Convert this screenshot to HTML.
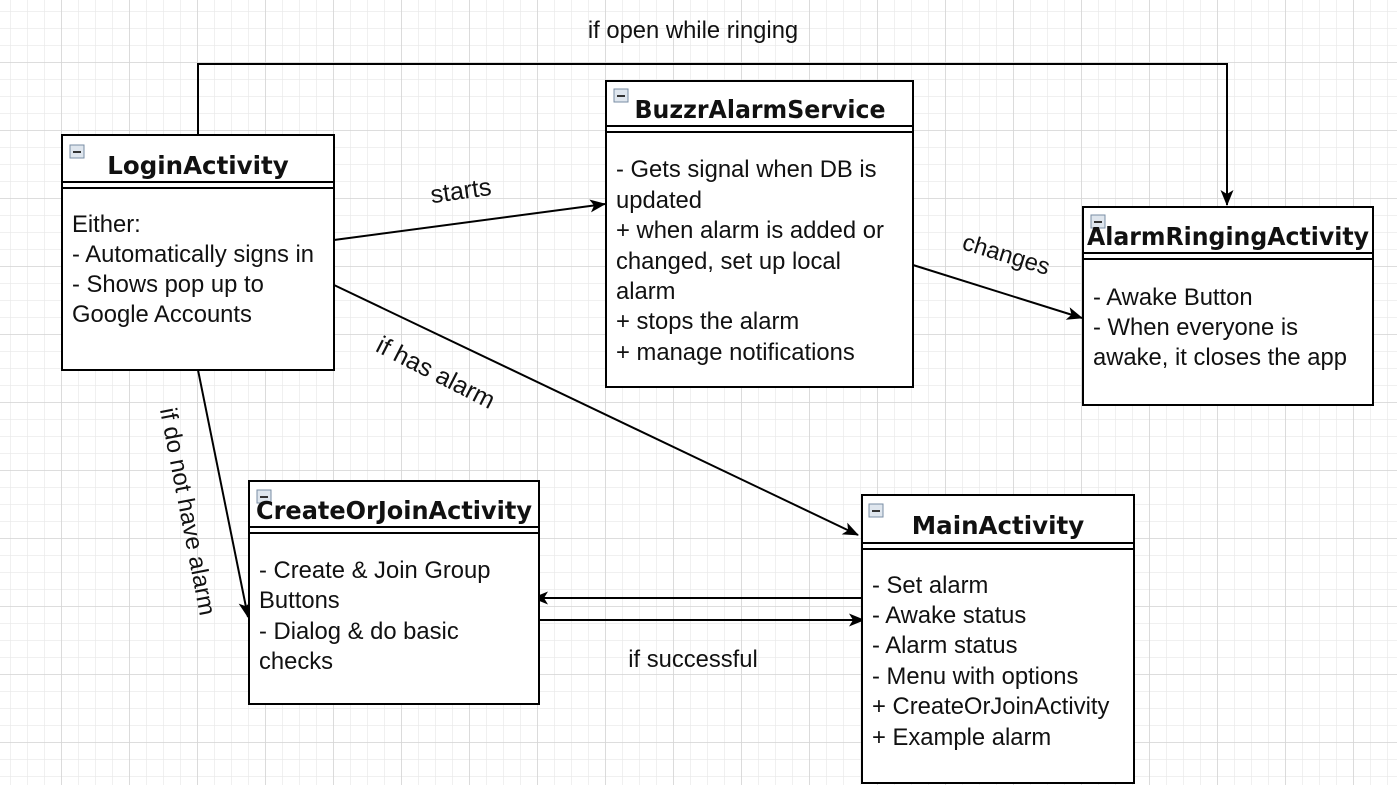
<!DOCTYPE html>
<html><head><meta charset="utf-8"><style>
html,body{margin:0;padding:0;background:#fff;}
svg{display:block;}
text{font-family:"Liberation Sans",sans-serif;fill:#111;}
.t{font-family:"DejaVu Sans","Liberation Sans",sans-serif;font-weight:bold;font-size:24.5px;}
.b{font-size:23.8px;}
</style></head><body>
<svg width="1397" height="785" viewBox="0 0 1397 785" xmlns="http://www.w3.org/2000/svg">
<defs>
<pattern id="mg" x="10" y="11" width="17" height="17" patternUnits="userSpaceOnUse">
<path d="M0 0H17M0 0V17" stroke="#e8e8e8" stroke-width="1.3" fill="none"/></pattern>
<pattern id="Mg" x="61" y="62" width="68" height="68" patternUnits="userSpaceOnUse">
<path d="M0 0H68M0 0V68" stroke="#d4d4d4" stroke-width="1.6" fill="none"/></pattern>
<marker id="a" markerWidth="16" markerHeight="16" refX="15" refY="8" orient="auto" markerUnits="userSpaceOnUse">
<path d="M0 1.5L16 8L0 14.5L4 8Z" fill="#000"/></marker>
<g id="ic"><rect x="0" y="0" width="14" height="13" fill="#dfe6ee" stroke="#7a8ea4" stroke-width="1"/><rect x="3" y="6" width="8" height="2" fill="#333"/></g>
</defs>
<rect width="1397" height="785" fill="#fff"/>
<rect width="1397" height="785" fill="url(#mg)"/>
<rect width="1397" height="785" fill="url(#Mg)"/>

<g stroke="#000" stroke-width="2" fill="none">
<path d="M198 135V64H1227V205" marker-end="url(#a)"/>
<path d="M334 240L605 204" marker-end="url(#a)"/>
<path d="M913 265L1082 318" marker-end="url(#a)"/>
<path d="M334 285L858 535" marker-end="url(#a)"/>
<path d="M198 370L248 617" marker-end="url(#a)"/>
<path d="M862 598L533 598" marker-end="url(#a)"/>
<path d="M539 620L864 620" marker-end="url(#a)"/>
</g>

<g fill="#fff" stroke="#000" stroke-width="2">
<rect x="62" y="135" width="272" height="235"/>
<rect x="606" y="81" width="307" height="306"/>
<rect x="1083" y="207" width="290" height="198"/>
<rect x="249" y="481" width="290" height="223"/>
<rect x="862" y="495" width="272" height="288"/>
</g>
<g stroke="#000" stroke-width="2">
<path d="M62 182H334M62 188H334"/>
<path d="M606 126H913M606 132H913"/>
<path d="M1083 253H1373M1083 259H1373"/>
<path d="M249 527H539M249 533H539"/>
<path d="M862 543H1134M862 549H1134"/>
</g>
<use href="#ic" x="70" y="145"/>
<use href="#ic" x="614" y="89"/>
<use href="#ic" x="1091" y="215"/>
<use href="#ic" x="257" y="490"/>
<use href="#ic" x="869" y="504"/>

<text class="t" x="198" y="174" text-anchor="middle">LoginActivity</text>
<text class="t" x="760" y="118" text-anchor="middle" textLength="251" lengthAdjust="spacingAndGlyphs">BuzzrAlarmService</text>
<text class="t" x="1228" y="245" text-anchor="middle" textLength="282" lengthAdjust="spacingAndGlyphs">AlarmRingingActivity</text>
<text class="t" x="394" y="519" text-anchor="middle" textLength="276" lengthAdjust="spacingAndGlyphs">CreateOrJoinActivity</text>
<text class="t" x="998" y="534" text-anchor="middle">MainActivity</text>

<text class="b" x="72" y="232">Either:</text>
<text class="b" x="72" y="262">- Automatically signs in</text>
<text class="b" x="72" y="292">- Shows pop up to</text>
<text class="b" x="72" y="322">Google Accounts</text>

<text class="b" x="616" y="177">- Gets signal when DB is</text>
<text class="b" x="616" y="208">updated</text>
<text class="b" x="616" y="238">+ when alarm is added or</text>
<text class="b" x="616" y="269">changed, set up local</text>
<text class="b" x="616" y="299">alarm</text>
<text class="b" x="616" y="329">+ stops the alarm</text>
<text class="b" x="616" y="360">+ manage notifications</text>

<text class="b" x="1093" y="305">- Awake Button</text>
<text class="b" x="1093" y="335">- When everyone is</text>
<text class="b" x="1093" y="365">awake, it closes the app</text>

<text class="b" x="259" y="578">- Create &amp; Join Group</text>
<text class="b" x="259" y="608">Buttons</text>
<text class="b" x="259" y="639">- Dialog &amp; do basic</text>
<text class="b" x="259" y="669">checks</text>

<text class="b" x="872" y="593">- Set alarm</text>
<text class="b" x="872" y="623">- Awake status</text>
<text class="b" x="872" y="653">- Alarm status</text>
<text class="b" x="872" y="684">- Menu with options</text>
<text class="b" x="872" y="714">+ CreateOrJoinActivity</text>
<text class="b" x="872" y="745">+ Example alarm</text>

<text class="b" x="693" y="38" text-anchor="middle">if open while ringing</text>
<text class="b" x="693" y="667" text-anchor="middle">if successful</text>
<text class="b" transform="translate(462,199) rotate(-8)" text-anchor="middle" style="font-size:25px">starts</text>
<text class="b" transform="translate(1004,262) rotate(17)" text-anchor="middle">changes</text>
<text class="b" transform="translate(432,380) rotate(27)" text-anchor="middle" style="font-size:25px">if has alarm</text>
<text class="b" transform="translate(180,513) rotate(79)" text-anchor="middle" style="font-size:24px">if do not have alarm</text>
</svg>
</body></html>
